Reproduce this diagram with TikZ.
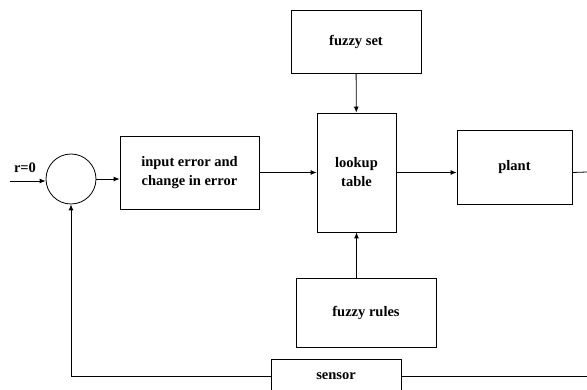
\documentclass[tikz,border=0pt]{standalone}
\usepackage{fontspec}
\setmainfont{Liberation Serif}
\usepackage{tikz}
\usetikzlibrary{shapes,arrows,arrows.meta}

\begin{document}
\begin{tikzpicture}[x=1pt, y=-1pt, line width=0.8pt,
  blockbox/.style={font=\bfseries\fontsize{14.5}{19}\selectfont, draw, inner sep=3, align=center},
  >={Latex[length=6pt,width=5pt]}]
\useasboundingbox (0,0) rectangle (587,390);
%blocks
\node[draw, circle, minimum size=50] (sum) at (71,179) {};
\node[font=\bfseries\fontsize{14.5}{19}\selectfont] (ref) at (25,168) {r=0};
\node[blockbox, minimum width=139, minimum height=73] (err) at (189.5,172.5) {input error and\\change in error};
\node[blockbox, minimum width=79, minimum height=119] (lookup) at (356.5,172.5) {lookup\\table};
\node[blockbox, minimum width=130, minimum height=63] (fset) at (356,41.5) {fuzzy set};
\node[blockbox, minimum width=115, minimum height=74] (plant) at (514.5,167) {plant};
\node[blockbox, minimum width=140, minimum height=69] (rules) at (366,312.5) {fuzzy rules};
\node[blockbox, minimum width=130, minimum height=34] (sensor) at (336,376) {sensor};
\coordinate (in) at (10,181);
\coordinate (out) at (587,172);
\coordinate (back) at (587,376);
\draw [->] (in) -- (in -| sum.west);
\draw [->] (sum.east) -- (sum.east -| err.west);
\draw [->] (err) -- (lookup);
\draw [->] (fset) -- (lookup);
\draw [->] (rules.north -| lookup.south) -- (lookup.south);
\draw [->] (lookup.east) -- (lookup.east -| plant.west);
\draw (lookup.east -| plant.east) -- (out);
\draw (back) -- (sensor.east);
\draw [->] (sensor.west) -| (sum.south);
\end{tikzpicture}
\end{document}
